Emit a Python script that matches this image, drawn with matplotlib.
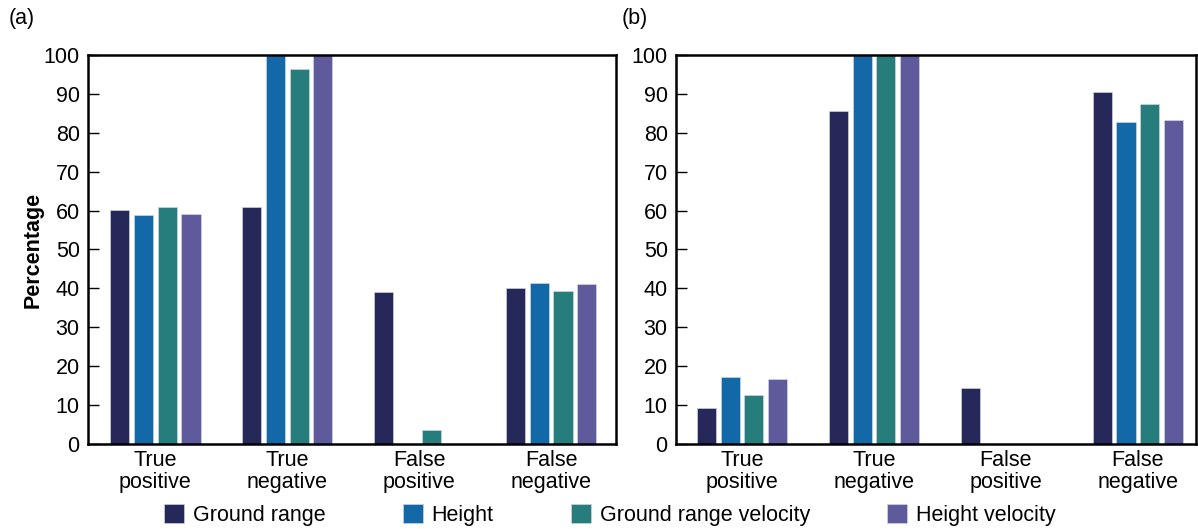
import matplotlib
matplotlib.use("Agg")
import matplotlib.pyplot as plt
import numpy as np

plt.rcParams["font.family"] = ["Liberation Sans", "DejaVu Sans"]

categories = ["True\npositive", "True\nnegative", "False\npositive", "False\nnegative"]
series_names = ["Ground range", "Height", "Ground range velocity", "Height velocity"]
colors = ["#252858", "#1368A8", "#267D7C", "#5E5A9C"]

# Panel (a)
ground_range_a = [60.2, 61.0, 39.0, 40.0]
height_a = [58.8, 100.0, 0.0, 41.3]
ground_range_vel_a = [60.8, 96.5, 3.7, 39.3]
height_vel_a = [59.2, 100.0, 0.0, 41.0]

# Panel (b)
ground_range_b = [9.3, 85.7, 14.3, 90.5]
height_b = [17.3, 100.0, 0.0, 82.7]
ground_range_vel_b = [12.7, 100.0, 0.0, 87.3]
height_vel_b = [16.7, 100.0, 0.0, 83.3]

yticks = list(range(0, 101, 10))
FS = 15.5

fig = plt.figure(figsize=(11.98, 5.29), dpi=100)
ax_a = fig.add_axes([0.0735, 0.1607, 0.4405, 0.7354])
ax_b = fig.add_axes([0.5643, 0.1607, 0.434, 0.7354])

x = np.arange(len(categories))
step = 0.18
width = 0.145
offsets = (np.arange(4) - 1.5) * step


def draw_panel(ax, data, xlim):
    handles = []
    for i, vals in enumerate(data):
        h = ax.bar(x + offsets[i], vals, width, color=colors[i],
                   edgecolor="#d8dde8", linewidth=0.4, label=series_names[i])
        handles.append(h)
    ax.set_ylim(0, 100)
    ax.set_xlim(*xlim)
    ax.set_yticks(yticks)
    ax.set_xticks(x)
    ax.set_xticklabels(categories, fontsize=FS, linespacing=1.1)
    ax.tick_params(axis="y", direction="in", labelsize=FS, length=8, width=1.0, pad=6)
    ax.tick_params(axis="x", length=0, pad=4)
    for sp in ax.spines.values():
        sp.set_linewidth(1.8)
    return handles


handles = draw_panel(ax_a, [ground_range_a, height_a, ground_range_vel_a, height_vel_a],
                     (-0.51, 3.49))
draw_panel(ax_b, [ground_range_b, height_b, ground_range_vel_b, height_vel_b],
           (-0.5, 3.44))

ax_a.set_ylabel("Percentage", fontsize=FS, fontweight="bold", labelpad=0)

fig.text(0.007, 0.965, "(a)", fontsize=FS, va="center", ha="left")
fig.text(0.519, 0.965, "(b)", fontsize=FS, va="center", ha="left")

fig.legend(handles, series_names, loc="center", bbox_to_anchor=(0.509, 0.026),
           ncol=4, frameon=False, fontsize=FS, handlelength=0.93, handleheight=0.93,
           handletextpad=0.4, columnspacing=3.6, borderaxespad=0)

fig.savefig("out.png", dpi=100)
